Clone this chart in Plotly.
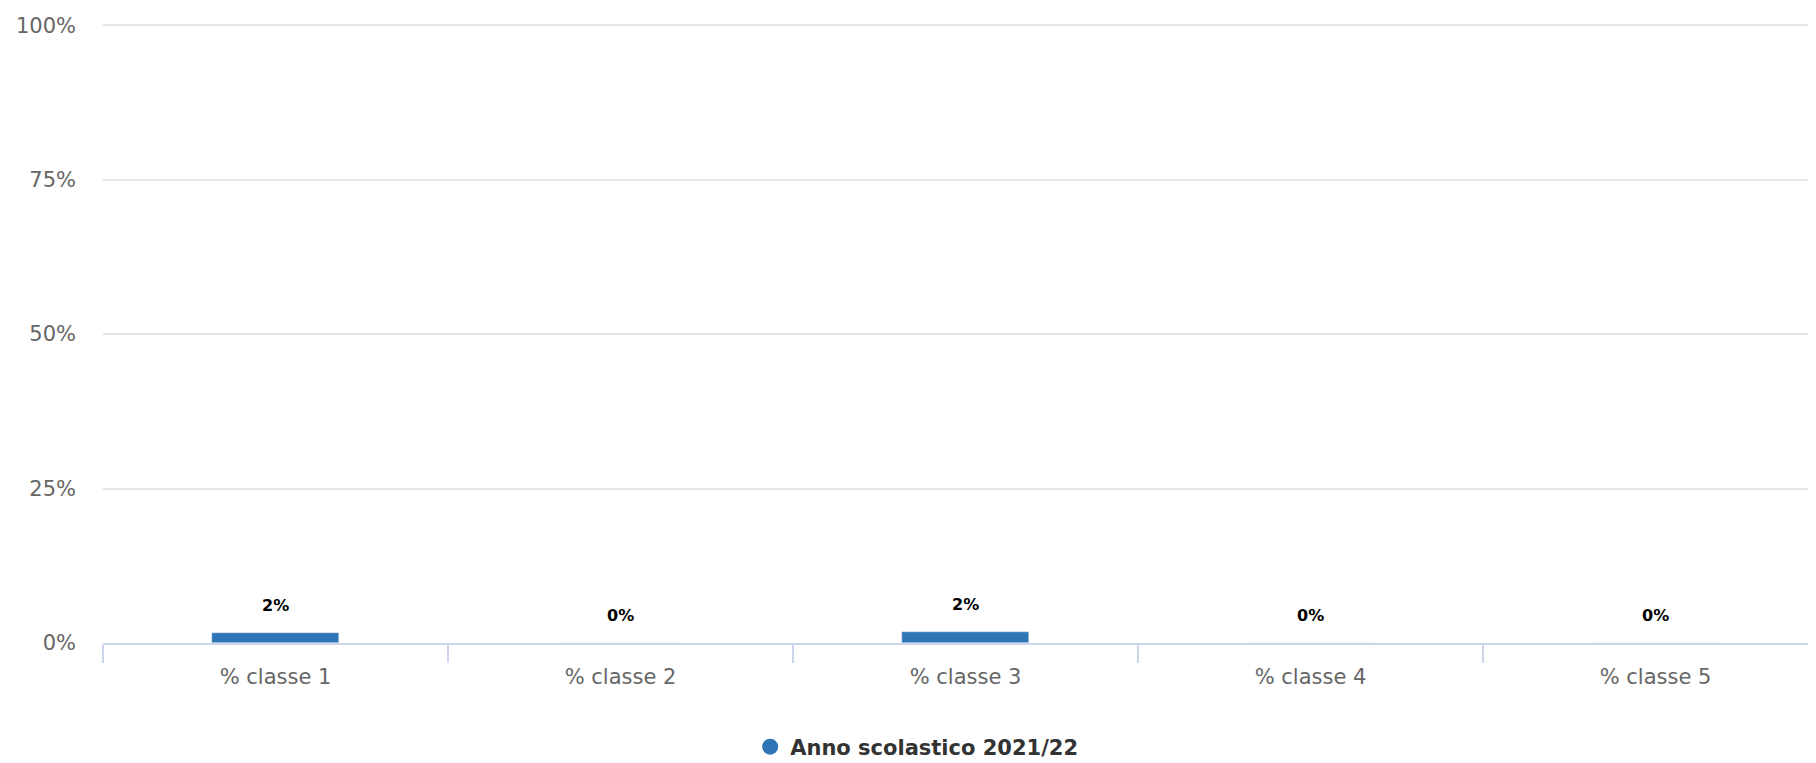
import plotly.graph_objects as go

categories = ["% classe 1", "% classe 2", "% classe 3", "% classe 4", "% classe 5"]
values = [1.6, 0.0, 1.8, 0.0, 0.0]
series_name = "Anno scolastico 2021/22"
y_ticks = [0, 25, 50, 75, 100]
y_tick_labels = ["0%", "25%", "50%", "75%", "100%"]

BAR_COLOR = "#2E75B6"
FONT = "DejaVu Sans"

fig = go.Figure()
fig.add_trace(go.Bar(
    x=categories, y=values, marker_color=BAR_COLOR, width=0.366,
    showlegend=False, hoverinfo="x+y",
))
# legend entry with circle symbol
fig.add_trace(go.Scatter(
    x=[None], y=[None], mode="markers", name=series_name,
    marker=dict(color=BAR_COLOR, size=20, symbol="circle"),
))

for c, v in zip(categories, values):
    fig.add_annotation(
        x=c, y=v, text=f"<b>{v:.0f}%</b>", showarrow=False,
        yanchor="bottom", yshift=16,
        font=dict(family=FONT, size=16, color="#000000"),
    )

# page body has an 8px default margin, so the figure is 8px smaller
fig.update_layout(
    width=1808, height=755,
    margin=dict(l=95, r=0, t=11, b=120, autoexpand=False),
    paper_bgcolor="white", plot_bgcolor="white",
    bargap=0.0,
    showlegend=True,
    legend=dict(
        orientation="h", x=0.475, xanchor="center", xref="paper",
        y=-0.1667, yref="paper", yanchor="middle",
        font=dict(family=FONT, size=21, color="#333333", weight="bold"),
    ),
)

fig.update_xaxes(
    type="category", range=[-0.5, -0.5 + 1713 / 345],
    showline=True, linecolor="#ccd6eb", linewidth=2,
    ticks="outside", tickson="boundaries", ticklen=18, tickwidth=2, tickcolor="#ccd6eb",
    tickfont=dict(family=FONT, size=21, color="#666666"),
    ticklabelstandoff=14,
    showgrid=False, zeroline=False, automargin=False,
)
fig.update_yaxes(
    range=[0, 101], tickvals=y_ticks, ticktext=y_tick_labels,
    showgrid=True, gridcolor="#e6e6e6", gridwidth=2,
    zeroline=False, showline=False,
    ticklabelstandoff=26, automargin=False,
    tickfont=dict(family=FONT, size=21, color="#666666"),
)

fig.write_html("out.html")
